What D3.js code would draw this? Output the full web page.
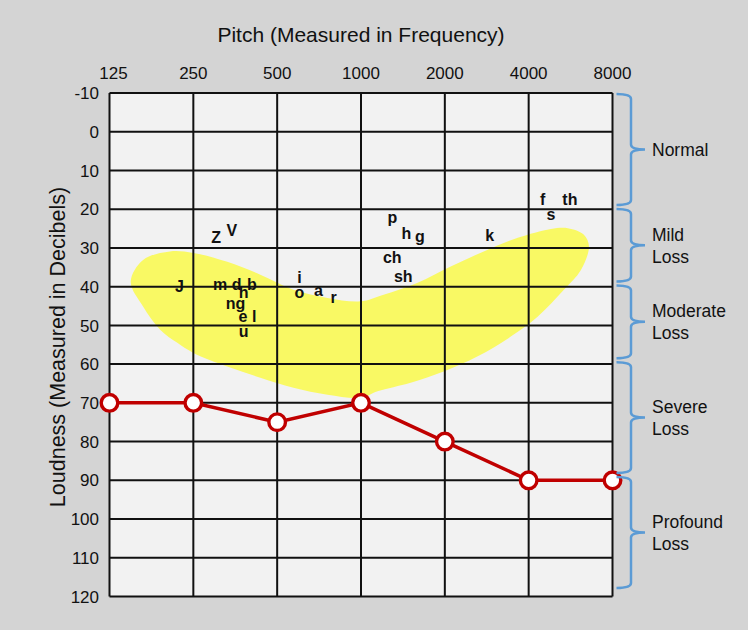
<!DOCTYPE html>
<html>
<head>
<meta charset="utf-8">
<script src="https://cdn.jsdelivr.net/npm/d3@7"></script>
<style>
  html, body { margin: 0; padding: 0; background: #d4d4d4; }
  svg { display: block; font-family: "Liberation Sans", Arial, sans-serif; }
</style>
</head>
<body>
<svg id="chart" width="748" height="630"></svg>
<script>
// frequencies on the top axis (Hz)
const FREQUENCIES = [125, 250, 500, 1000, 2000, 4000, 8000];
// hearing levels on the left axis (dB)
const LEVELS = [-10, 0, 10, 20, 30, 40, 50, 60, 70, 80, 90, 100, 110, 120];

// measured thresholds, one per frequency
const THRESHOLDS = [70, 70, 75, 70, 80, 90, 90];

// speech sounds: [label, Hz, dB]
const PHONEMES = [
  ['Z', 302, 28.6], ['V', 344, 26.9],
  ['J', 223, 41.3], ['m', 312, 40.8], ['d', 358, 40.8], ['b', 406, 40.8],
  ['h', 379, 42.9], ['ng', 354, 45.7], ['e', 377, 49.2], ['l', 414, 49.2],
  ['u', 379, 52.9], ['i', 601, 39.0], ['o', 601, 42.9], ['a', 703, 42.4],
  ['r', 798, 44.1], ['p', 1295, 23.6], ['h', 1454, 27.7], ['g', 1628, 28.4],
  ['ch', 1295, 33.9], ['sh', 1418, 38.8], ['k', 2900, 28.2],
  ['f', 4488, 18.9], ['th', 5624, 18.9], ['s', 4806, 22.8]
];

// outline of the speech banana: [Hz, dB]
const BANANA = [
  [149, 38.7], [165, 33.1], [206, 30.9], [250, 31.3], [331, 33.6], [435, 36.9],
  [572, 40.8], [758, 42.9], [995, 43.8], [1205, 42.1], [1597, 39.0], [2100, 34.8],
  [2759, 30.9], [3656, 27.4], [4806, 25.1], [5532, 24.9], [6316, 26.6], [6584, 29.6],
  [6162, 35.7], [5352, 40.8], [4316, 47.7], [3450, 52.9], [2625, 58.0], [1981, 61.9],
  [1507, 64.8], [1147, 67.0], [1000, 68.7], [758, 67.9], [572, 66.1], [435, 63.5],
  [331, 60.6], [250, 57.1], [219, 54.5], [190, 51.1], [165, 45.1]
];

// degree of loss bands
const BAND_FROM = [-10, 20, 40, 60, 90];
const BAND_TO = [20, 40, 60, 90, 120];
const BAND_LABELS = [['Normal'], ['Mild', 'Loss'], ['Moderate', 'Loss'], ['Severe', 'Loss'], ['Profound', 'Loss']];

const svg = d3.select('#chart');
const plot = { left: 109.5, right: 612.5, top: 93, bottom: 596.5 };

const x = d3.scaleLog().base(2)
  .domain([125, 8000])
  .range([plot.left, plot.right]);

const y = d3.scaleLinear()
  .domain([-10, 120])
  .range([plot.top, plot.bottom]);

// the braces sit on a slightly shorter scale than the grid
const yBrace = d3.scaleLinear()
  .domain([-10, 120])
  .range([93, 591]);

// plot background
svg.append('rect')
  .attr('x', plot.left)
  .attr('y', plot.top)
  .attr('width', plot.right - plot.left)
  .attr('height', plot.bottom - plot.top)
  .attr('fill', '#f2f2f2');

// speech banana
svg.append('path')
  .datum(BANANA)
  .attr('d', d3.line()
    .x(d => x(d[0]))
    .y(d => y(d[1]))
    .curve(d3.curveCatmullRomClosed.alpha(0.5)))
  .attr('fill', '#f9f964');

// grid
const grid = svg.append('g').attr('stroke', '#111').attr('stroke-width', 2);
grid.selectAll('line.v')
  .data(FREQUENCIES)
  .enter()
  .append('line')
  .attr('class', 'v')
  .attr('x1', d => x(d)).attr('x2', d => x(d))
  .attr('y1', plot.top).attr('y2', plot.bottom);
grid.selectAll('line.h')
  .data(LEVELS)
  .enter()
  .append('line')
  .attr('class', 'h')
  .attr('x1', plot.left).attr('x2', plot.right)
  .attr('y1', d => y(d)).attr('y2', d => y(d));

// top axis labels
svg.append('g')
  .selectAll('text')
  .data(FREQUENCIES)
  .enter()
  .append('text')
  .attr('x', (d, i) => x(d) + (i === 0 ? 4 : 0))
  .attr('y', 79)
  .attr('text-anchor', 'middle')
  .attr('font-size', 17)
  .attr('fill', '#111')
  .text(d => d);

// left axis labels
svg.append('g')
  .selectAll('text')
  .data(LEVELS)
  .enter()
  .append('text')
  .attr('x', 99)
  .attr('y', d => y(d))
  .attr('dy', '0.36em')
  .attr('text-anchor', 'end')
  .attr('font-size', 17)
  .attr('fill', '#111')
  .text(d => d);

// axis titles
svg.append('text')
  .attr('x', 361)
  .attr('y', 42)
  .attr('text-anchor', 'middle')
  .attr('font-size', 21)
  .attr('fill', '#111')
  .text('Pitch (Measured in Frequency)');

svg.append('text')
  .attr('transform', 'translate(65,347) rotate(-90)')
  .attr('text-anchor', 'middle')
  .attr('font-size', 21.5)
  .attr('fill', '#111')
  .text('Loudness (Measured in Decibels)');

// speech sounds
svg.append('g')
  .selectAll('text')
  .data(PHONEMES)
  .enter()
  .append('text')
  .attr('x', d => x(d[1]))
  .attr('y', d => y(d[2]))
  .attr('text-anchor', 'middle')
  .attr('font-size', 16)
  .attr('font-weight', 'bold')
  .attr('fill', '#111')
  .text(d => d[0]);

// threshold line and markers
const points = FREQUENCIES.map((f, i) => [f, THRESHOLDS[i]]);
svg.append('path')
  .datum(points)
  .attr('d', d3.line().x(d => x(d[0])).y(d => y(d[1])))
  .attr('fill', 'none')
  .attr('stroke', '#c00000')
  .attr('stroke-width', 3.5);

svg.append('g')
  .selectAll('circle')
  .data(points)
  .enter()
  .append('circle')
  .attr('cx', d => x(d[0]))
  .attr('cy', d => y(d[1]))
  .attr('r', 8.3)
  .attr('fill', '#fff')
  .attr('stroke', '#c00000')
  .attr('stroke-width', 3.4);

// braces for the degree of loss
function brace(top, bottom) {
  const x0 = plot.right + 4, x1 = x0 + 14.5, tip = x1 + 14, c = 5;
  const mid = (top + bottom) / 2;
  return `M${x0},${top} Q${x1},${top} ${x1},${top + c}` +
    ` L${x1},${mid - c} Q${x1},${mid} ${tip},${mid}` +
    ` Q${x1},${mid} ${x1},${mid + c}` +
    ` L${x1},${bottom - c} Q${x1},${bottom} ${x0},${bottom}`;
}

const bands = svg.append('g');
BAND_FROM.forEach((from, i) => {
  const top = yBrace(from) + 1;
  const bottom = yBrace(BAND_TO[i]) - 3;
  bands.append('path')
    .attr('d', brace(top, bottom))
    .attr('fill', 'none')
    .attr('stroke', '#5b9bd5')
    .attr('stroke-width', 2.5);

  const lines = BAND_LABELS[i];
  const mid = (top + bottom) / 2;
  bands.append('g')
    .selectAll('text')
    .data(lines)
    .enter()
    .append('text')
    .attr('x', 652)
    .attr('y', (d, j) => mid + (j - (lines.length - 1) / 2) * 22)
    .attr('dy', '0.36em')
    .attr('font-size', 17.5)
    .attr('fill', '#111')
    .text(d => d);
});
</script>
</body>
</html>
